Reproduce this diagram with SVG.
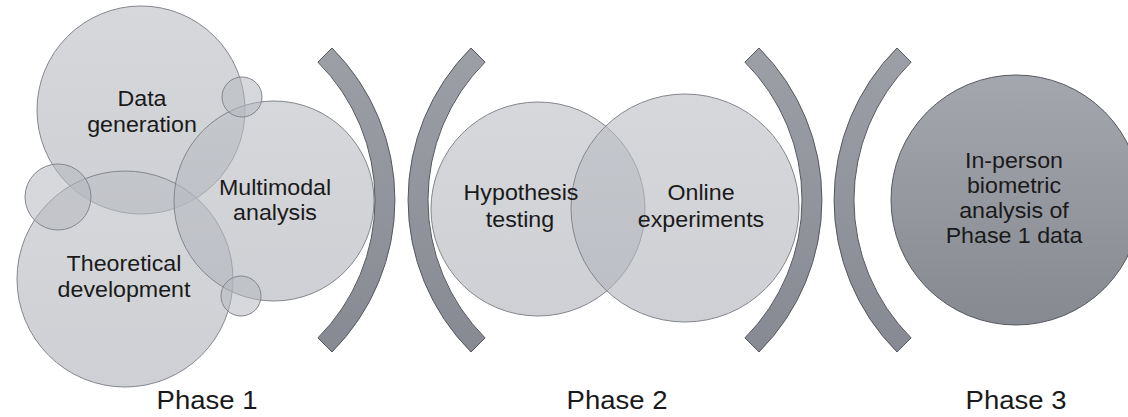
<svg xmlns="http://www.w3.org/2000/svg" width="1128" height="417" viewBox="0 0 1128 417">
<defs>
<linearGradient id="gBr" x1="0" y1="0" x2="0" y2="1">
<stop offset="0" stop-color="#9c9fa6"/>
<stop offset="1" stop-color="#878a92"/>
</linearGradient>
<linearGradient id="gP3" x1="0" y1="0" x2="0" y2="1">
<stop offset="0" stop-color="#a4a7ae"/>
<stop offset="1" stop-color="#868990"/>
</linearGradient>
<linearGradient id="gLt" x1="0" y1="0" x2="0" y2="1">
<stop offset="0" stop-color="#bcbfc5"/>
<stop offset="1" stop-color="#b0b3ba"/>
</linearGradient>
<style>
.c{fill:url(#gLt);fill-opacity:0.62;stroke:#83868c;stroke-width:1}
.s{fill:#b5b8be;fill-opacity:0.55;stroke:#83868c;stroke-width:1}
.br{fill:url(#gBr);stroke:#55585d;stroke-width:1}
.p3{fill:url(#gP3);stroke:#55585d;stroke-width:1}
text{font-family:"Liberation Sans",Arial,sans-serif;fill:#1a1a1a;text-anchor:middle}
.t{font-size:21.5px}
.ph{font-size:25px}
</style>
</defs>
<rect width="1128" height="417" fill="#ffffff"/>

<g id="data-generation">
<circle class="c" cx="141" cy="110" r="104"/>
</g>
<g id="theoretical-development">
<circle class="c" cx="125" cy="279" r="108"/>
</g>
<g id="multimodal-analysis">
<circle class="c" cx="274" cy="201" r="100"/>
</g>
<g id="small-circles">
<circle class="s" cx="242" cy="97" r="20"/>
<circle class="s" cx="58" cy="197" r="33"/>
<circle class="s" cx="241" cy="296" r="20"/>
</g>

<g id="hypothesis-testing">
<circle class="c" cx="538" cy="209" r="107"/>
</g>
<g id="online-experiments">
<circle class="c" cx="685" cy="208" r="114"/>
</g>

<g id="phase3-node">
<circle class="p3" cx="1016" cy="200" r="125"/>
</g>

<g id="connectors">
<path class="br" d="M332,48 A215,215 0 0 1 332,352 L317.9,337.9 A195,195 0 0 0 317.9,62.1 Z"/>
<path class="br" d="M471,48 A215,215 0 0 0 471,352 L485.1,337.9 A195,195 0 0 1 485.1,62.1 Z"/>
<path class="br" d="M759,48 A215,215 0 0 1 759,352 L744.9,337.9 A195,195 0 0 0 744.9,62.1 Z"/>
<path class="br" d="M897,48 A215,215 0 0 0 897,352 L911.1,337.9 A195,195 0 0 1 911.1,62.1 Z"/>
</g>

<g id="labels">
<text class="t" transform="translate(142,106) scale(1.08,1)">Data</text>
<text class="t" transform="translate(142,132) scale(1.08,1)">generation</text>
<text class="t" transform="translate(275,195) scale(1.08,1)">Multimodal</text>
<text class="t" transform="translate(275,220) scale(1.08,1)">analysis</text>
<text class="t" transform="translate(124,271) scale(1.08,1)">Theoretical</text>
<text class="t" transform="translate(124,297) scale(1.08,1)">development</text>
<text class="t" transform="translate(521,200) scale(1.08,1)">Hypothesis</text>
<text class="t" transform="translate(520,227) scale(1.08,1)">testing</text>
<text class="t" transform="translate(701,200) scale(1.08,1)">Online</text>
<text class="t" transform="translate(701,227) scale(1.08,1)">experiments</text>
<text class="t" transform="translate(1014,168) scale(1.08,1)">In-person</text>
<text class="t" transform="translate(1014,193) scale(1.08,1)">biometric</text>
<text class="t" transform="translate(1014,218) scale(1.08,1)">analysis of</text>
<text class="t" transform="translate(1014,243) scale(1.08,1)">Phase 1 data</text>
<text class="ph" transform="translate(207,409) scale(1.1,1)">Phase 1</text>
<text class="ph" transform="translate(617,409) scale(1.1,1)">Phase 2</text>
<text class="ph" transform="translate(1016,409) scale(1.1,1)">Phase 3</text>
</g>
</svg>
